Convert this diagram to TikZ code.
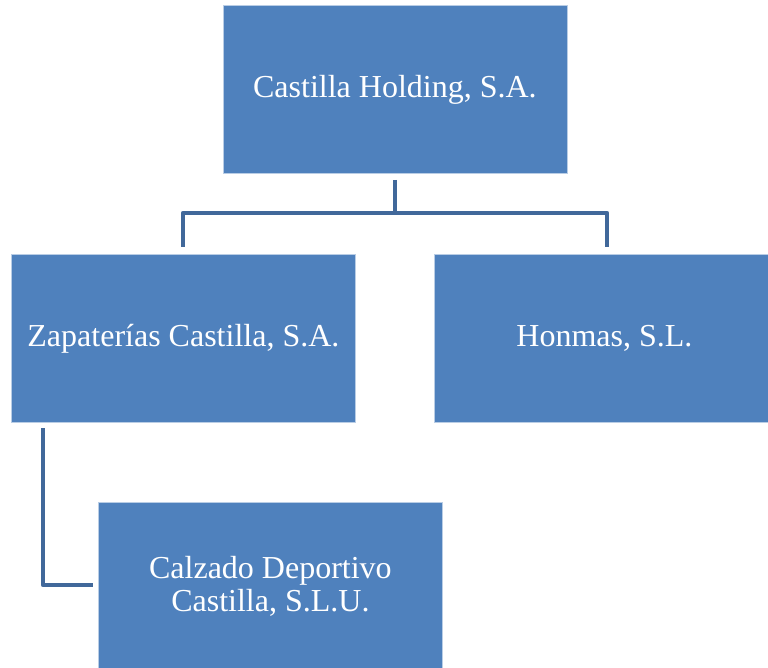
\documentclass[tikz,border=0pt]{standalone}
\usepackage{fontspec}
\setmainfont{Liberation Serif}
\begin{document}
\begin{tikzpicture}[x=1pt,y=-1pt,
  orgbox/.style={draw=white!60!boxblue, line width=0.8pt, fill=boxblue, text=white, minimum width=344pt, minimum height=168pt, inner sep=0pt, font=\fontsize{32}{33}\selectfont, align=center, anchor=north west},
  link/.style={draw=linkblue, line width=4.5pt}]
\definecolor{boxblue}{HTML}{4F81BD}
\definecolor{linkblue}{HTML}{41689A}
\useasboundingbox (0,0) rectangle (768,668);
\node[orgbox] (top) at (222.5,5) {Castilla Holding, S.A.};
\node[orgbox] (zap) at (11,254) {Zapaterías Castilla, S.A.};
\node[orgbox, minimum width=340pt] (hon) at (434,254) {Honmas, S.L.};
\node[orgbox] (cal) at (98,502) {Calzado Deportivo\\Castilla, S.L.U.};
\coordinate (t1) at (395,180);
\coordinate (lz) at (183,247);
\coordinate (lh) at (607,247);
\coordinate (z1) at (43,428);
\coordinate (c1) at (93,585);
\draw[link] (t1) -- (395,213);
\draw[link, line join=round] (lz) -- (183,213) -- (607,213) -- (lh);
\draw[link, line join=round] (z1) -- (43,585) -- (c1);
\end{tikzpicture}
\end{document}
